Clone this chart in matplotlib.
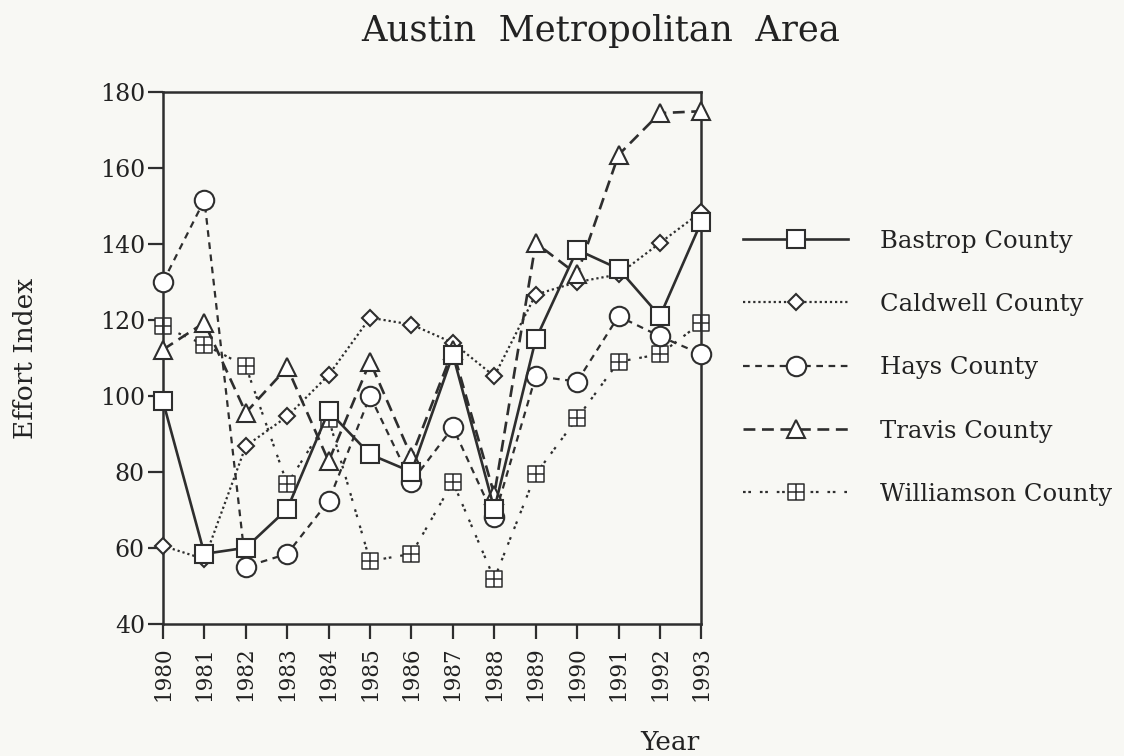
import matplotlib
matplotlib.use("Agg")
import matplotlib.pyplot as plt
from matplotlib.path import Path

# valores
anos = [1980, 1981, 1982, 1983, 1984, 1985, 1986,
        1987, 1988, 1989, 1990, 1991, 1992, 1993]

bastrop = [98.6, 58.4, 60.0, 70.2, 96.0, 84.6, 80.0,
           110.9, 70.2, 114.9, 138.5, 133.5, 121.0, 145.9]
caldwell = [60.5, 57.0, 86.8, 94.6, 105.5, 120.6, 118.8,
            114.0, 105.2, 126.7, 130.0, 132.0, 140.3, 148.5]
hays = [130.0, 151.6, 55.0, 58.4, 72.3, 100.0, 77.3,
        91.7, 68.0, 105.2, 103.8, 121.0, 115.7, 111.0]
travis = [112.2, 119.3, 95.6, 107.5, 82.8, 109.0, 84.0,
          112.0, 74.0, 140.3, 132.0, 163.5, 174.5, 175.0]
williamson = [118.3, 113.5, 107.8, 76.8, 94.0, 56.5, 58.4,
              77.3, 51.8, 79.4, 94.1, 109.0, 111.0, 119.3]

nomes = ["Bastrop County",
         "Caldwell County",
         "Hays County",
         "Travis County",
         "Williamson County"]

COR = "#2e2e2e"
TEXTO = "#222222"
FUNDO = "#f8f8f4"

plt.rcParams["font.family"] = ["DejaVu Serif"]

# quadrado com cruz interna (marcador do Williamson)
quad_cruz = Path([(-1, -1), (1, -1), (1, 1), (-1, 1), (-1, -1),
                  (0, -1), (0, 1), (-1, 0), (1, 0)],
                 [Path.MOVETO, Path.LINETO, Path.LINETO, Path.LINETO,
                  Path.CLOSEPOLY, Path.MOVETO, Path.LINETO,
                  Path.MOVETO, Path.LINETO])

series = [
    (bastrop, dict(linestyle="solid", marker="s", markersize=13,
                   linewidth=1.9, zorder=6)),
    (caldwell, dict(linestyle=(0, (1, 1.3)), marker="D", markersize=8,
                    linewidth=1.6, zorder=4)),
    (hays, dict(linestyle=(0, (3, 2.5)), marker="o", markersize=14,
                linewidth=1.6, zorder=3)),
    (travis, dict(linestyle=(0, (4.5, 2.5)), marker="^", markersize=13,
                  linewidth=1.9, zorder=5)),
    (williamson, dict(linestyle=(0, (1.2, 1.2, 1.2, 4)), marker=quad_cruz,
                      markersize=12, linewidth=1.6, zorder=2)),
]

fig = plt.figure(figsize=(11.24, 7.56), dpi=100, facecolor=FUNDO)
ax = fig.add_axes([0.145, 0.175, 0.479, 0.703])
ax.set_facecolor(FUNDO)

for n, (y, estilo) in enumerate(series):
    mew = 1.1 if n == 4 else 1.5
    ax.plot(anos, y, label=nomes[n], color=COR,
            markerfacecolor="white", markeredgecolor=COR,
            markeredgewidth=mew, clip_on=False, **estilo)

ax.set_xlim(1980, 1993)
ax.set_ylim(40, 180)
ax.set_xticks(anos)
ax.set_xticklabels([str(a) for a in anos], rotation=90)
ax.set_yticks(range(40, 181, 20))
ax.tick_params(axis="both", direction="out", length=11, width=1.6,
               color=COR, labelcolor=TEXTO)
ax.tick_params(axis="y", labelsize=17, pad=2)
ax.tick_params(axis="x", labelsize=15.5, pad=5)
for s in ax.spines.values():
    s.set_color(COR)
    s.set_linewidth(1.8)

ax.set_ylabel("Effort Index", fontsize=19, color=TEXTO)
ax.yaxis.set_label_coords(-0.232, 0.5)
fig.text(700 / 1124, 1 - 742 / 756, "Year", fontsize=19, color=TEXTO,
         ha="right", va="center")
fig.text(0.534, 1 - 31 / 756, "Austin  Metropolitan  Area", fontsize=25.5,
         color=TEXTO, ha="center", va="center")

ax.legend(loc="upper left", bbox_to_anchor=(1.06, 0.76), frameon=False,
          fontsize=17.5, handlelength=4.3, handletextpad=1.3,
          labelspacing=1.66, borderaxespad=0, labelcolor=TEXTO)

plt.savefig("out.png", dpi=100, facecolor=FUNDO)
plt.close()
